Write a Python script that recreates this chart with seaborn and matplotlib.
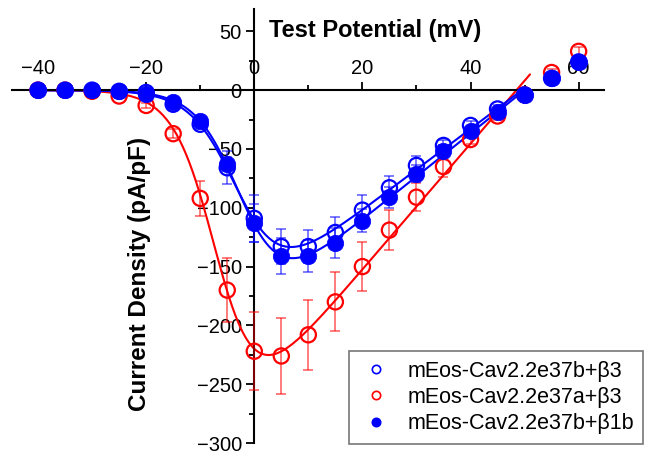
import numpy as np
import pandas as pd
import matplotlib

matplotlib.use("Agg")
import matplotlib.pyplot as plt
from matplotlib.ticker import MultipleLocator
import seaborn as sns

# Test potentials (mV)
voltage = [-40, -35, -30, -25, -20, -15, -10, -5, 0, 5, 10,
           15, 20, 25, 30, 35, 40, 45, 50, 55, 60]

# mEos-Cav2.2e37b + b3 (open blue)
e37b_b3 = [0, 0, 0, -1, -2, -12, -29, -66, -109, -133, -133,
           -121, -102, -83, -64, -47, -30, -16, -4, 10, 24]
e37b_b3_err = [0.5, 0.5, 0.5, 0.8, 1, 2, 4, 14, 20, 15, 14,
               13, 13, 10, 8, 5, 4, 3, 2, 3, 3]

# mEos-Cav2.2e37a + b3 (open red)
e37a_b3 = [0, 0, -1, -5, -13, -37, -92, -170, -222, -226, -208,
           -180, -150, -119, -91, -65, -42, -22, -4, 15, 33]
e37a_b3_err = [0.3, 0.5, 0.8, 1.5, 2, 4, 15, 27, 33, 32, 30,
               25, 21, 17, 12, 9, 4, 3, 2, 3, 4]

# mEos-Cav2.2e37b + b1b (filled blue)
e37b_b1b = [0, 0, 0, -1, -3, -10, -26, -63, -113, -141, -141,
            -130, -111, -91, -71, -52, -35, -19, -4, 10, 24]
e37b_b1b_err = [0.3, 0.5, 0.5, 0.8, 1, 2, 3, 6, 16, 15, 14,
                13, 10, 9, 7, 5, 4, 3, 2, 2, 3]

labels = ["mEos-Cav2.2e37b+\u03b23", "mEos-Cav2.2e37a+\u03b23",
          "mEos-Cav2.2e37b+\u03b21b"]

sns.set_theme(style="white", rc={"text.color": "black",
                                 "axes.labelcolor": "black",
                                 "xtick.color": "black",
                                 "ytick.color": "black"})
plt.rcParams["font.family"] = ["Liberation Sans", "DejaVu Sans"]


def fit_boltzmann(v, i, vmax=50):
    """
    Least squares fit of a Boltzmann-ohmic I-V relation on a coarse grid.
    """
    v = np.asarray(v, float)
    i = np.asarray(i, float)
    keep = v <= vmax
    v, i = v[keep], i[keep]
    vrev = np.arange(40, 60, 0.5)[:, None, None, None]
    vh = np.arange(-25, 10, 0.5)[None, :, None, None]
    k = np.arange(2, 10, 0.2)[None, None, :, None]
    b = (v - vrev) / (1 + np.exp((vh - v) / k))
    bi = (b * i).sum(-1)
    bb = (b * b).sum(-1)
    sse = (i * i).sum() - bi ** 2 / bb
    idx = np.unravel_index(np.argmin(sse), sse.shape)
    g = bi[idx] / bb[idx]
    p = (vrev.ravel()[idx[0]], vh.ravel()[idx[1]], k.ravel()[idx[2]], g)

    def curve(x):
        return p[3] * (x - p[0]) / (1 + np.exp((p[1] - x) / p[2]))

    return curve


fig = plt.figure(figsize=(6.53, 4.54), dpi=100)
ax = fig.add_axes([0.0185, 0.0242, 0.9057, 0.9560])

series = [
    (e37a_b3, e37a_b3_err, "red", False, labels[1], 51),
    (e37b_b3, e37b_b3_err, "blue", False, labels[0], 50),
    (e37b_b1b, e37b_b1b_err, "blue", True, labels[2], 50),
]

handles = {}
for values, err, color, filled, label, vend in series:
    df = pd.DataFrame({"V": voltage, "I": values})
    curve = fit_boltzmann(voltage, values)
    xs = np.linspace(-40, vend, 300)
    fit_df = pd.DataFrame({"V": xs, "I": curve(xs)})
    sns.lineplot(data=fit_df, x="V", y="I", ax=ax, color=color, lw=1.5,
                 zorder=2)
    ax.errorbar(voltage, values, yerr=err, fmt="none", ecolor=color,
                elinewidth=1.1, capsize=3.5, capthick=1.1, alpha=0.65,
                zorder=3)
    if filled:
        sns.scatterplot(data=df, x="V", y="I", ax=ax, color=color, s=140,
                        edgecolor=color, linewidth=0.5, zorder=5)
    else:
        sns.scatterplot(data=df, x="V", y="I", ax=ax, facecolor="none",
                        edgecolor=color, s=120, linewidth=1.6, zorder=4)
    handles[label] = plt.Line2D([], [], ls="none", marker="o", ms=6,
                                mfc=color if filled else "none", mec=color,
                                mew=1.2)

ax.set_xlim(-44.8, 64.6)
ax.set_ylim(-300, 69)

# Axes crossing at the origin
for side in ["bottom", "right"]:
    ax.spines[side].set_visible(False)
ax.spines["top"].set_position(("data", 0))
ax.spines["left"].set_position(("data", 0))
for side in ["top", "left"]:
    ax.spines[side].set_color("black")
    ax.spines[side].set_linewidth(1.5)

ax.xaxis.set_ticks_position("top")
ax.xaxis.set_label_position("top")
ax.set_xticks([-40, -20, 0, 20, 40, 60])
ax.xaxis.set_minor_locator(MultipleLocator(10))
ax.set_yticks([-300, -250, -200, -150, -100, -50, 0, 50])
ax.yaxis.set_minor_locator(MultipleLocator(25))
ax.tick_params(which="major", direction="out", length=6, width=1.3,
               labelsize=14.5, colors="black", pad=3)
ax.tick_params(which="minor", direction="out", length=3.5, width=1.3,
               colors="black")
ax.tick_params(axis="x", which="both", top=True, bottom=False,
               labeltop=True, labelbottom=False)
ax.tick_params(axis="y", which="both", left=True, right=False)

ax.set_xlabel("")
ax.set_ylabel("")
fig.text(0.575, 0.932, "Test Potential (mV)", fontsize=17, fontweight="bold",
         ha="center", va="center")
fig.text(0.214, 0.397, "Current Density (pA/pF)", fontsize=17.5,
         fontweight="bold", rotation=90, ha="center", va="center")

leg = fig.legend([handles[k] for k in labels], labels, loc="lower left",
                 bbox_to_anchor=(0.5345, 0.022), borderaxespad=0,
                 fontsize=15.5, frameon=True, fancybox=False,
                 edgecolor="#555555", borderpad=0.45, labelspacing=0.25,
                 handletextpad=0.65, handlelength=1.6)
leg.get_frame().set_linewidth(1.2)

fig.savefig("out.png", dpi=100)
